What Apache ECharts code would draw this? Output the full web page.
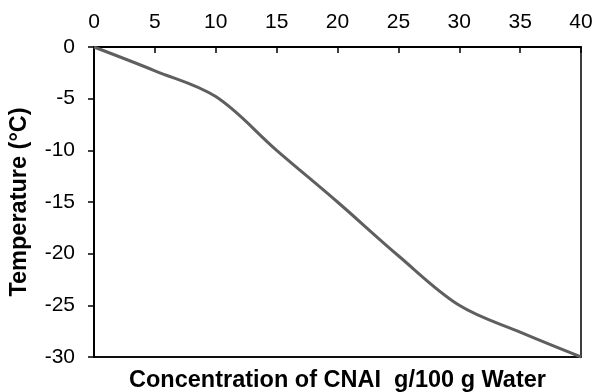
<!DOCTYPE html>
<html>
<head>
<meta charset="utf-8">
<script src="https://cdn.jsdelivr.net/npm/echarts@6/dist/echarts.min.js"></script>
<style>
html,body{margin:0;padding:0;background:#fff;}
#c{width:596px;height:392px;}
</style>
</head>
<body>
<div id="c"></div>
<script>
// Data
var concentration = [0, 5, 10, 15, 20, 25, 30, 35, 40];
var temperature = [0, -2.3, -4.8, -10, -15, -20.2, -25, -27.6, -30];
var xTitle = 'Concentration of CNAI  g/100 g Water';
var yTitle = 'Temperature (\u00B0C)';

var points = concentration.map(function (x, i) { return [x, temperature[i]]; });
var font = '"Liberation Sans", Arial, sans-serif';

var chart = echarts.init(document.getElementById('c'), null, {renderer: 'canvas'});
chart.setOption({
  animation: false,
  backgroundColor: '#fff',
  grid: {left: 94, right: 15, top: 47, bottom: 35, containLabel: false, outerBoundsMode: 'none',
         show: true, borderColor: '#000', borderWidth: 1.5, backgroundColor: 'transparent'},
  xAxis: [{
    type: 'value', position: 'top', min: 0, max: 40, interval: 5,
    axisLine: {show: true, onZero: false, lineStyle: {color: '#000', width: 2}},
    axisTick: {show: true, inside: true, length: 6, lineStyle: {color: '#000', width: 1.5}},
    axisLabel: {color: '#000', fontSize: 21, fontFamily: font, margin: 14},
    splitLine: {show: false}
  }, {
    type: 'value', position: 'bottom', min: 0, max: 40, interval: 5,
    axisLine: {show: true, onZero: false, lineStyle: {color: '#000', width: 1.5}},
    axisTick: {show: false}, axisLabel: {show: false}, splitLine: {show: false},
    name: xTitle, nameLocation: 'middle', nameGap: 12,
    nameTextStyle: {color: '#000', fontSize: 23.5, fontWeight: 'bold', fontFamily: font}
  }],
  yAxis: {
    type: 'value', min: -30, max: 0, interval: 5,
    axisLine: {show: true, onZero: false, lineStyle: {color: '#000', width: 2}},
    axisTick: {show: true, inside: false, length: 6, lineStyle: {color: '#000', width: 1.5}},
    axisLabel: {color: '#000', fontSize: 21, fontFamily: font, margin: 19},
    splitLine: {show: false},
    name: yTitle, nameLocation: 'middle', nameGap: 62, nameRotate: 90,
    nameTextStyle: {color: '#000', fontSize: 23.5, fontWeight: 'bold', fontFamily: font}
  },
  series: [{
    type: 'line', data: points, smooth: 0.35, showSymbol: false,
    lineStyle: {color: '#5f5f5f', width: 3}
  }]
});
</script>
</body>
</html>
